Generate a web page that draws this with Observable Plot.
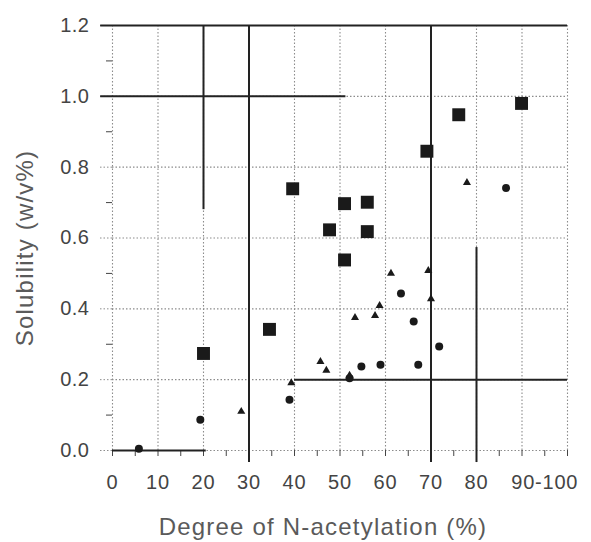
<!DOCTYPE html>
<html><head><meta charset="utf-8">
<script src="https://cdn.jsdelivr.net/npm/d3@7"></script>
<script src="https://cdn.jsdelivr.net/npm/@observablehq/plot@0.6"></script>
<style>
body{margin:0;background:#fff}
#chart svg{display:block}
g[aria-label="x-axis tick label"] text{letter-spacing:0.8px}
g[aria-label="y-axis tick label"] text{letter-spacing:0.5px}
g[aria-label="text"] text{letter-spacing:1.2px}
</style>
</head><body><div id="chart"></div>
<script>
// ---- data ----
const squareX = [20, 34.5, 39.6, 47.7, 51, 51, 56, 56, 69.1, 76.1, 89.9];
const squareY = [0.274, 0.342, 0.739, 0.623, 0.697, 0.538, 0.701, 0.618, 0.845, 0.948, 0.98];

const circleX = [5.8, 19.3, 38.9, 52.1, 54.7, 58.9, 63.4, 66.2, 67.2, 71.8, 86.5];
const circleY = [0.005, 0.087, 0.143, 0.204, 0.237, 0.242, 0.443, 0.364, 0.242, 0.294, 0.741];

const triangleX = [28.3, 39.3, 45.7, 47.0, 52.1, 53.3, 57.7, 58.7, 61.2, 69.4, 70.0, 77.9];
const triangleY = [0.110, 0.191, 0.251, 0.226, 0.212, 0.375, 0.381, 0.409, 0.50, 0.508, 0.428, 0.756];

// tick values and labels
const xTickValues = [0, 10, 20, 30, 40, 50, 60, 70, 80, 95];
const xTickLabels = ["0", "10", "20", "30", "40", "50", "60", "70", "80", "90-100"];
const xGridValues = [0, 10, 20, 30, 40, 50, 60, 70, 80, 90, 100];
const xMinorTicks = [0, 5, 10, 15, 20, 25, 30, 35, 40, 45, 50, 55, 60, 65, 70, 75, 80, 85, 90, 95, 100];
const yTickValues = [0, 0.2, 0.4, 0.6, 0.8, 1.0, 1.2];
const yTickLabels = ["0.0", "0.2", "0.4", "0.6", "0.8", "1.0", "1.2"];
const yMinorTicks = [0.1, 0.3, 0.5, 0.7, 0.9, 1.1];

const xTitle = "Degree of N-acetylation (%)";
const yTitle = "Solubility (w/v%)";

// solid ruled lines seen in the scanned figure (data units)
const hLineY  = [1.2, 1.0, 0.2, 0];
const hLineX1 = [-2.6, -2.6, 40, 0];
const hLineX2 = [100, 51.3, 100, 20.6];
const vLineX  = [20, 30, 70, 80];
const vLineY1 = [1.2, 1.2, 1.2, 0.573];
const vLineY2 = [0.68, -0.034, -0.034, -0.034];

// ---- tables built from the arrays ----
const squares = squareX.map((x, i) => ({x, y: squareY[i]}));
const circles = circleX.map((x, i) => ({x, y: circleY[i]}));
const triangles = triangleX.map((x, i) => ({x, y: triangleY[i]}));
const hLines = hLineY.map((y, i) => ({y, x1: hLineX1[i], x2: hLineX2[i]}));
const vLines = vLineX.map((x, i) => ({x, y1: vLineY1[i], y2: vLineY2[i]}));

const grid = {stroke: "#8c8c8c", strokeOpacity: 1, strokeWidth: 1.1, strokeDasharray: "1.5,2"};
const ink = "#1a1a1a";

const plot = Plot.plot({
  width: 591,
  height: 542,
  marginLeft: 112,
  marginRight: 24,
  marginTop: 25,
  marginBottom: 92,
  style: {fontFamily: "'Liberation Sans', Arial, sans-serif", background: "#fff", color: "#333"},
  x: {domain: [0, 100]},
  y: {domain: [0, 1.2]},
  marks: [
    Plot.gridX(xGridValues, grid),
    Plot.gridY(yTickValues.slice(0, 6), grid),
    // y axis: dotted major ticks with labels, solid minor ticks
    Plot.axisY(yTickValues, {
      tickSize: 12, tickPadding: 11, fontSize: 20,
      stroke: "#8c8c8c", strokeDasharray: "1.5,2", fill: "#444",
      tickFormat: (d) => yTickLabels[yTickValues.indexOf(d)], label: null
    }),
    Plot.axisY(yMinorTicks, {tickSize: 6, text: null, stroke: "#444", label: null}),
    // x axis: short ticks, labels below
    Plot.axisX(xMinorTicks, {tickSize: 6, text: null, stroke: "#444", label: null}),
    Plot.axisX(xTickValues, {
      tickSize: 0, tickPadding: 24, fontSize: 20, fill: "#444",
      tickFormat: (d) => xTickLabels[xTickValues.indexOf(d)], label: null
    }),
    // ruled lines
    Plot.ruleY(hLines, {y: "y", x1: "x1", x2: "x2", stroke: "#222", strokeWidth: 2}),
    Plot.ruleX(vLines, {x: "x", y1: "y1", y2: "y2", stroke: "#222", strokeWidth: 2}),
    // data
    Plot.dot(squares, {x: "x", y: "y", symbol: "square", r: 7.3, fill: ink, stroke: "none"}),
    Plot.dot(circles, {x: "x", y: "y", symbol: "circle", r: 4, fill: ink, stroke: "none"}),
    Plot.dot(triangles, {x: "x", y: "y", symbol: "triangle", r: 3, fill: ink, stroke: "none"}),
    // titles
    Plot.text([xTitle], {text: (d) => d, frameAnchor: "bottom", textAnchor: "middle", lineAnchor: "middle",
      dx: -17, dy: 77, fontSize: 24, fill: "#5a5a5a"}),
    Plot.text([yTitle], {text: (d) => d, frameAnchor: "left", textAnchor: "middle", lineAnchor: "middle",
      dx: -87, dy: 10, rotate: -90, fontSize: 24, fill: "#5a5a5a"})
  ]
});
document.getElementById("chart").appendChild(plot);
</script>
</body></html>
